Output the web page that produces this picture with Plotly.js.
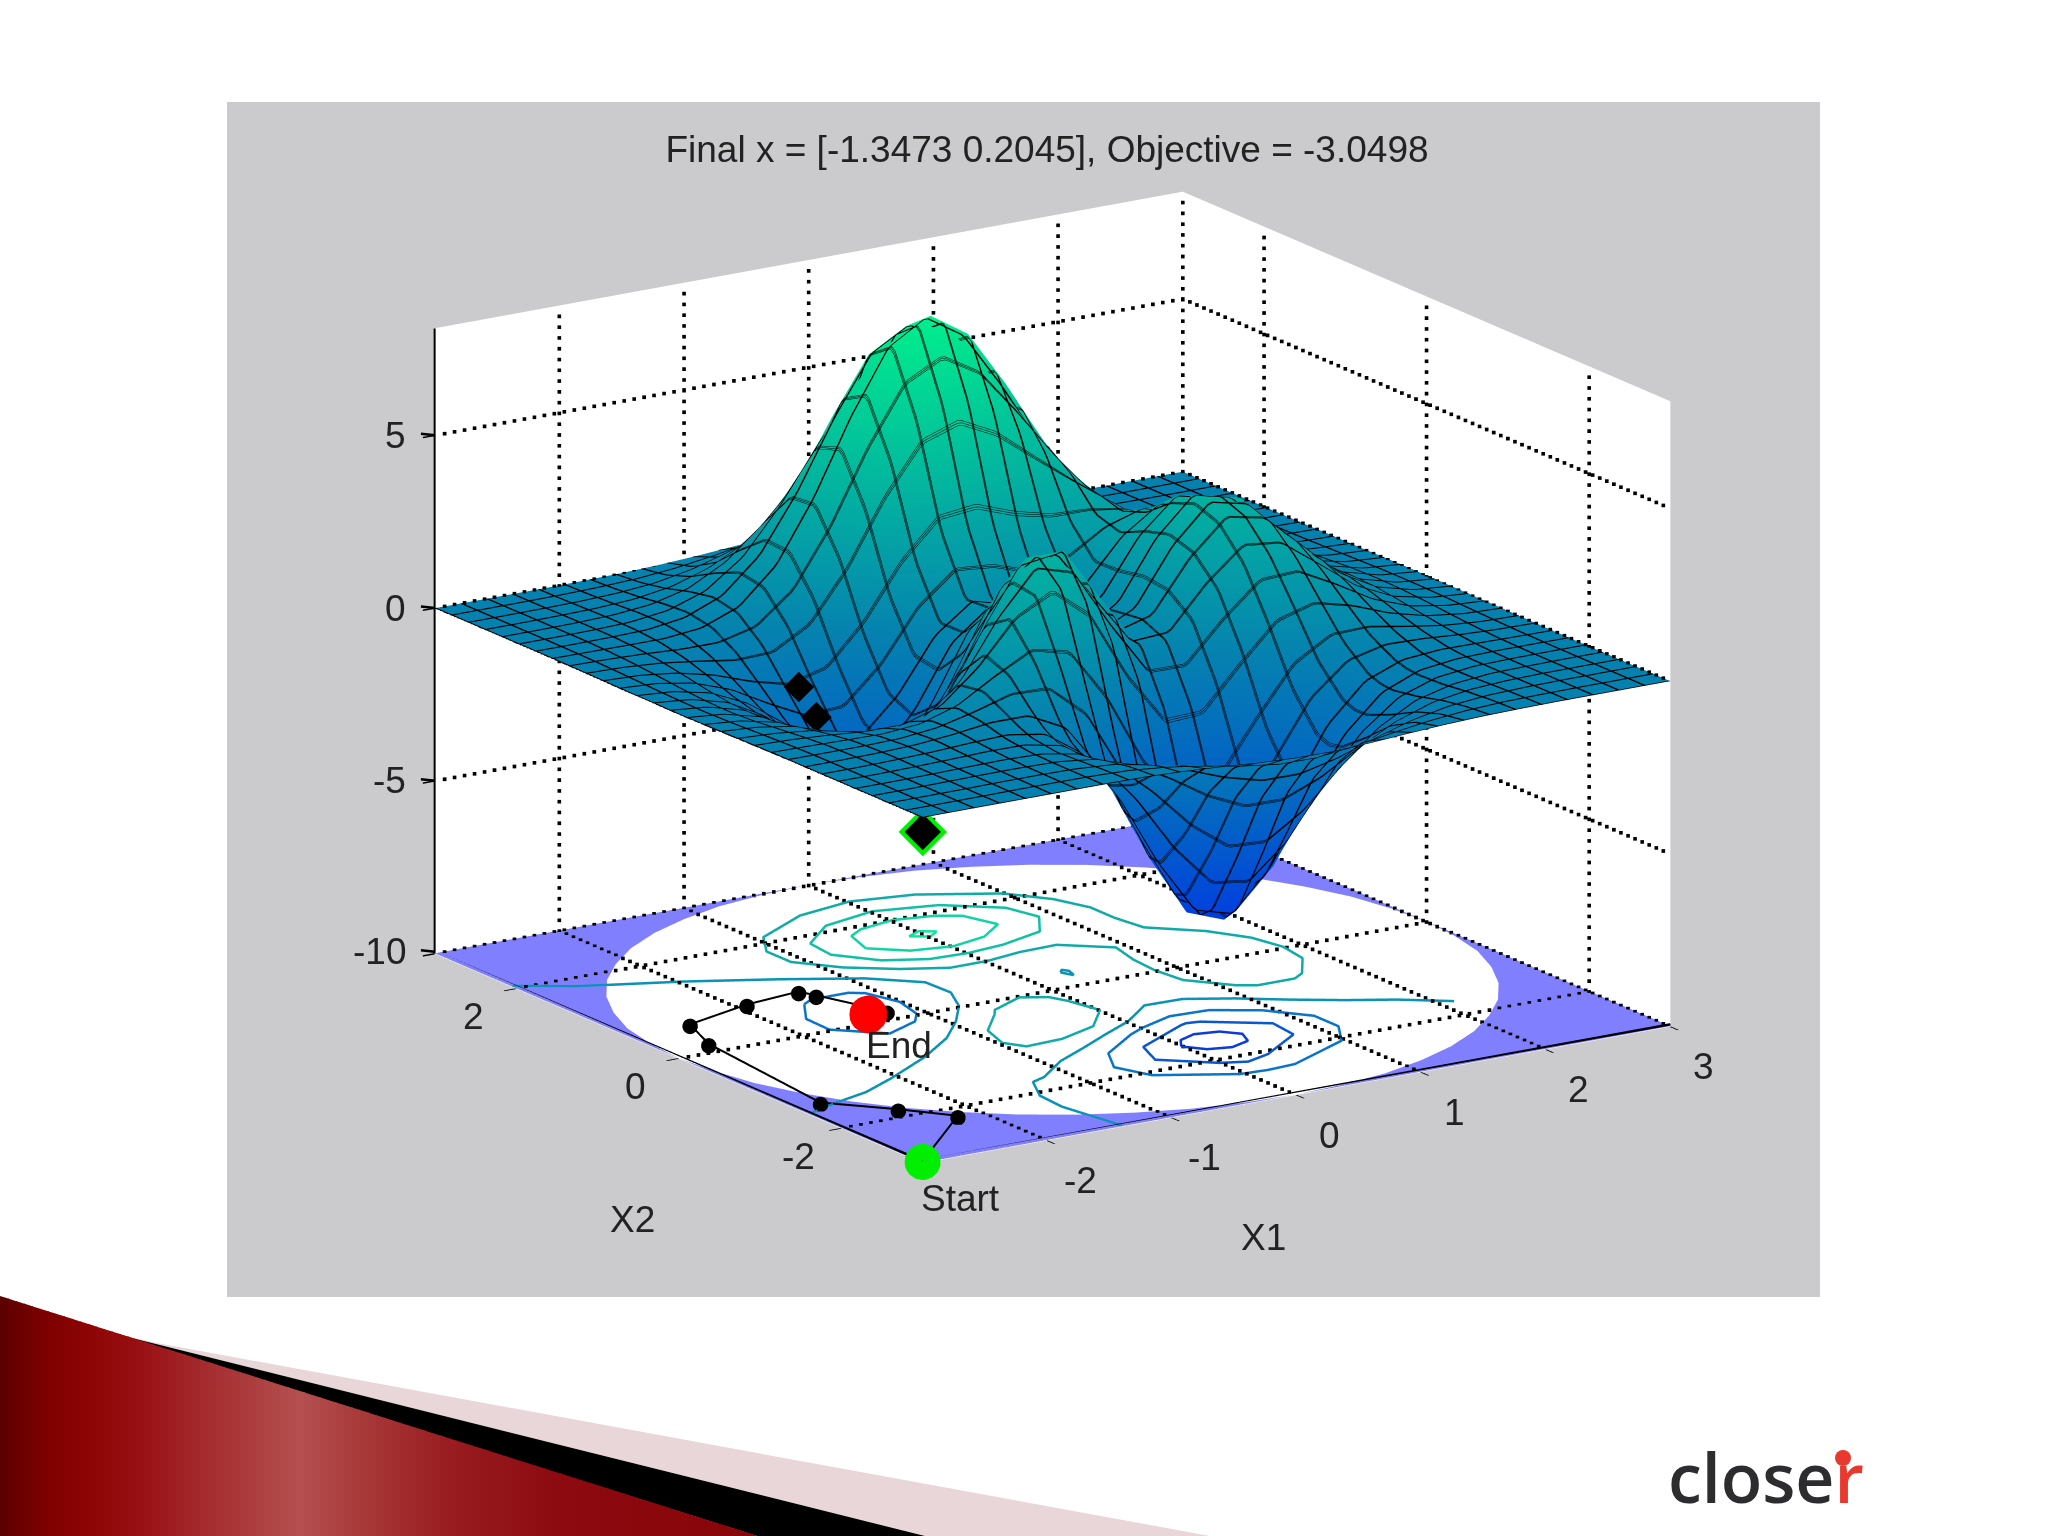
<!DOCTYPE html>
<html><head><meta charset="utf-8">
<script src="https://cdn.plot.ly/plotly-3.0.1.min.js"></script>
<style>html,body{margin:0;padding:0;background:#fff}#p{width:2048px;height:1536px}</style>
</head><body><div id="p"></div>
<script>
// ---------- data ----------
const xs=[-3,-2.7,-2.4,-2.1,-1.8,-1.5,-1.2,-.9,-.6,-.3,0,.3,.6,.9,1.2,1.5,1.8,2.1,2.4,2.7,3];
const ys=[-3,-2.7,-2.4,-2.1,-1.8,-1.65,-1.5,-1.2,-.9,-.6,-.3,0,.3,.6,.9,1.2,1.5,1.8,2.1,2.4,2.7,3];
const zRows=[
[0,0,0,0,0,0,-.01,-.05,-.11,-.19,-.24,-.25,-.2,-.13,-.07,-.03,-.01,0,0,0,0],
[0,0,0,.01,.01,0,-.04,-.17,-.38,-.63,-.81,-.82,-.66,-.43,-.23,-.1,-.03,-.01,0,0,0],
[0,0,.01,.02,.02,0,-.12,-.45,-1,-1.64,-2.09,-2.1,-1.7,-1.11,-.58,-.24,-.08,-.02,0,0,0],
[0,0,.01,.03,.05,.02,-.2,-.82,-1.89,-3.17,-4.09,-4.16,-3.37,-2.18,-1.13,-.46,-.15,-.03,-.01,0,0],
[0,0,.02,.05,.1,.12,-.09,-.87,-2.38,-4.32,-5.83,-6.08,-4.97,-3.19,-1.6,-.61,-.17,-.03,0,0,0],
[0,0,.02,.06,.14,.22,.1,-.6,-2.16,-4.3,-6.08,-6.49,-5.35,-3.41,-1.65,-.58,-.13,0,.01,.01,0],
[0,0,.01,.05,.16,.33,.38,-.1,-1.51,-3.7,-5.68,-6.31,-5.26,-3.29,-1.5,-.44,-.03,.05,.03,.01,0],
[0,-.01,-.02,-.01,.11,.45,1,1.35,.81,-.91,-3.04,-4.18,-3.64,-2.03,-.54,.22,.35,.23,.1,.03,.01],
[-.01,-.04,-.11,-.21,-.22,.12,1.07,2.37,3.05,2.23,.29,-1.23,-1.22,-.07,.97,1.24,.93,.49,.2,.06,.02],
[-.02,-.08,-.23,-.53,-.86,-.82,.12,1.93,3.52,3.52,1.93,.39,.36,1.47,2.35,2.27,1.54,.78,.31,.1,.02],
[-.03,-.12,-.36,-.86,-1.56,-1.99,-1.41,.41,2.4,2.91,1.7,.47,.78,2.22,3.23,3.01,2.01,1.01,.4,.12,.03],
[-.04,-.14,-.43,-1.05,-1.98,-2.77,-2.58,-1,1.02,1.8,.98,.13,.77,2.44,3.53,3.27,2.17,1.1,.43,.13,.03],
[-.03,-.13,-.41,-1.01,-1.95,-2.83,-2.87,-1.64,.13,.97,.46,-.07,.67,2.24,3.23,2.98,1.98,1,.39,.12,.03],
[-.03,-.1,-.32,-.79,-1.53,-2.23,-2.29,-1.32,.13,.92,.69,.35,.85,1.94,2.59,2.32,1.52,.76,.3,.09,.02],
[-.02,-.06,-.2,-.48,-.9,-1.23,-1,.07,1.55,2.57,2.65,2.28,2.13,2.25,2.19,1.72,1.06,.51,.2,.06,.01],
[-.01,-.03,-.09,-.2,-.31,-.19,.51,2,3.93,5.45,5.89,5.31,4.27,3.2,2.23,1.39,.74,.33,.12,.03,.01],
[0,-.01,-.02,-.03,.07,.48,1.5,3.28,5.49,7.33,8,7.28,5.65,3.82,2.27,1.19,.54,.21,.07,.02,0],
[0,0,.01,.04,.2,.64,1.6,3.19,5.13,6.78,7.4,6.76,5.19,3.39,1.89,.91,.38,.13,.04,.01,0],
[0,0,.01,.05,.17,.48,1.13,2.18,3.47,4.56,4.98,4.55,3.49,2.25,1.22,.57,.22,.07,.02,.01,0],
[0,0,.01,.03,.09,.25,.58,1.11,1.75,2.29,2.51,2.29,1.75,1.12,.61,.28,.11,.03,.01,0,0],
[0,0,0,.01,.04,.1,.23,.43,.68,.89,.98,.89,.68,.44,.23,.11,.04,.01,0,0,0],
[0,0,0,0,.01,.03,.07,.13,.21,.27,.3,.27,.21,.13,.07,.03,.01,0,0,0,0]];

const xTicks=[-2,-1,0,1,2,3], yTicks=[-2,0,2], zTicks=[-10,-5,0,5];
const titleText='Final x = [-1.3473 0.2045], Objective = -3.0498';

// iso-lines on the floor: [x, y] pairs, with their colour
const contours=[
 {c:'#10e3a0',p:[[-.12,1.58],[0,1.65],[.1,1.58],[0,1.5]],open:false},
 {c:'#10d4a4',p:[[-.52,1.5],[-.44,1.8],[-.3,1.9],[0,1.97],[.3,1.9],[.45,1.8],[.54,1.5],[.3,1.3],[0,1.22],[-.3,1.29]]},
 {c:'#10bfa4',p:[[-.59,1.2],[-.8,1.5],[-.77,1.8],[-.45,2.1],[0,2.22],[.46,2.1],[.8,1.8],[.87,1.5],[.68,1.2],[.3,1.07],[0,1.03],[-.3,1.05]]},
 {c:'#10aaa8',p:[[1.08,-.6],[1.2,-.68],[1.5,-.68],[1.61,-.6],[1.81,-.3],[1.85,0],[1.79,.3],[1.62,.6],[1.32,.9],[1.28,1.2],[1.28,1.5],[1.18,1.8],[.97,2.1],[.46,2.4],[0,2.5],[-.46,2.4],[-.95,2.1],[-1.12,1.8],[-1.12,1.5],[-.9,1.2],[-.6,.96],[-.3,.8],[0,.8],[.3,.86],[.6,.87],[.9,.6],[.84,.3],[.82,0],[.85,-.3]]},
 {c:'#10aaa8',p:[[-.99,-.9],[-.91,-.6],[-.66,-.3],[-.6,-.21],[-.3,-.05],[-.13,-.15],[-.07,-.3],[-.01,-.6],[-.26,-.9],[-.6,-1.04],[-.9,-1.06]]},
 {c:'#0a93b4',p:[[-3,2.04],[-2.65,1.8],[-1.98,1.5],[-1.42,1.2],[-.92,.9],[-.63,.6],[-.62,.3],[-.75,0],[-.97,-.3],[-1.24,-.6],[-1.61,-.9],[-2.07,-1.2],[-2.4,-1.39],[-2.7,-1.49],[-3,-1.62]],open:true},
 {c:'#0a93b4',p:[[-1.4,-3],[-1.49,-2.4],[-1.47,-2.1],[-1.33,-1.8],[-1.2,-1.74],[-.9,-1.48],[-.6,-1.3],[-.3,-1.11],[0,-.93],[.3,-.67],[.6,-.68],[.9,-.86],[1.2,-1.09],[1.5,-1.3],[1.8,-1.48],[2.1,-1.72]],open:true},
 {c:'#0a93b4',p:[[.26,.3],[.3,.35],[.33,.3],[.3,.2]]},
 {c:'#0a75c8',p:[[-.15,-1.2],[-.53,-1.5],[-.68,-1.8],[-.57,-2.1],[-.06,-2.4],[.15,-2.42],[.38,-2.4],[.95,-2.1],[1.12,-1.8],[1.12,-1.5],[.9,-1.2],[.6,-1],[.3,-.98],[0,-1.11]]},
 {c:'#0a75c8',p:[[-1.6,.6],[-1.5,.67],[-1.2,.67],[-1.11,.6],[-1.03,.3],[-1.09,0],[-1.2,-.15],[-1.5,-.3],[-1.79,0],[-1.78,.3]]},
 {c:'#0a58d0',p:[[.25,-1.2],[-.25,-1.5],[-.35,-1.8],[-.03,-2.1],[.15,-2.18],[.36,-2.1],[.76,-1.8],[.79,-1.5],[.4,-1.2],[.3,-1.18]]},
 {c:'#0a3cdc',p:[[-.03,-1.63],[.05,-1.5],[.2,-1.43],[.38,-1.47],[.48,-1.6],[.42,-1.76],[.25,-1.83],[.08,-1.78]]}
];

// search path
const pathX=[-3,-2.2,-2.45,-2.8,-2.66,-2.51,-1.93,-1.47,-1.42,-1.23,-1.3473];
const pathY=[-3,-2.21,-1.86,-1.44,.15,.61,.8,.87,.73,.15,.2045];
const pathZ=[-.4,0,0,0,-.13,-.2,-.6,-1.13,-1.89,-2.9,-3.0498];

// quarter of the white disc rim (the corners outside it are tinted)
const rimX=[3,2.97,2.9,2.77,2.6,2.38,2.12,1.83,1.5,1.15,.78,.39,0];
const rimY=[0,.39,.78,1.15,1.5,1.83,2.12,2.38,2.6,2.77,2.9,2.97,3];

// ---------- scene ----------
const ZMIN=-10, ZMAX=8.1, FLOOR=-9.97, MESH_STEP=.2069;
const EYE=[-.524,-.804,.28], EYE_R=1.66;
// slide a marker along the line of sight: same screen spot, nearer or farther in depth
function shift(x,y,z,t){return [x+EYE[0]*t*6,y+EYE[1]*t*6,z+EYE[2]*t*(ZMAX-ZMIN)/.73];}
const traces=[];

// dotted grid
const gx=[],gy=[],gz=[];
function dots(a,b,step){
  const d=[b[0]-a[0],b[1]-a[1],b[2]-a[2]], len=Math.abs(d[0])+Math.abs(d[1])+Math.abs(d[2]), n=Math.round(len/step);
  for(let i=0;i<=n;i++){const q=shift(a[0]+d[0]*i/n,a[1]+d[1]*i/n,a[2]+d[2]*i/n,.006);gx.push(q[0]);gy.push(q[1]);gz.push(q[2]);}
}
xTicks.forEach(t=>{ if(t<3) dots([t,-3,ZMIN],[t,3,ZMIN],.087); dots([t,3,ZMIN],[t,3,ZMAX],.31); });
yTicks.forEach(t=>{ dots([-3,t,ZMIN],[3,t,ZMIN],.08); dots([3,t,ZMIN],[3,t,ZMAX],.31); });
zTicks.forEach(t=>{ dots([-3,3,t],[3,3,t],.08); dots([3,3,t],[3,-3,t],.087); });
traces.push({type:'scatter3d',mode:'markers',x:gx,y:gy,z:gz,hoverinfo:'skip',marker:{color:'#000',size:1.9,symbol:'square'}});

// tinted corners
[[1,1],[1,-1],[-1,1],[-1,-1]].forEach(s=>{
  const mx=[3*s[0]].concat(rimX.map(v=>v*s[0]));
  const my=[3*s[1]].concat(rimY.map(v=>v*s[1]));
  const mz=mx.map(()=>-9.985);
  const i=[],j=[],k=[];
  for(let n=1;n<rimX.length;n++){i.push(0);j.push(n);k.push(n+1);}
  traces.push({type:'mesh3d',x:mx,y:my,z:mz,i:i,j:j,k:k,color:'#8080ff',flatshading:true,hoverinfo:'skip',
    lighting:{ambient:1,diffuse:0,specular:0,roughness:1,fresnel:0}});
});

// surface, drawn three times so that its 1px wire lines read as thicker lines
[0,.006,.012].forEach(off=>{
  traces.push({type:'surface',x:xs,y:ys,z:zRows,showscale:false,cmin:-6.55,cmax:8.1,hoverinfo:'skip',
    colorscale:[[0,'#003ce1'],[.45,'#0582af'],[1,'#00f08c']],
    lighting:{ambient:1,diffuse:0,specular:0,roughness:1,fresnel:0},
    contours:{
      x:{show:true,start:-3+off,end:3,size:MESH_STEP,color:'#000',width:4,highlight:false},
      y:{show:true,start:-3+off,end:3,size:MESH_STEP,color:'#000',width:4,highlight:false},
      z:{highlight:false}}});
});

// floor iso-lines
contours.forEach(c=>{
  const p=c.open?c.p:c.p.concat([c.p[0]]);
  traces.push({type:'scatter3d',mode:'lines',x:p.map(q=>q[0]),y:p.map(q=>q[1]),z:p.map(()=>FLOOR+.01),
    hoverinfo:'skip',line:{color:c.c,width:5}});
});

// solid axis edges
traces.push({type:'scatter3d',mode:'lines',x:[-3,-3,null,-3,3],y:[3,-3,null,-3,-3],z:[FLOOR+.04,FLOOR+.04,null,FLOOR+.04,FLOOR+.04],
  hoverinfo:'skip',connectgaps:false,line:{color:'#000',width:5}});
traces.push({type:'scatter3d',mode:'lines',x:[-3,-3],y:[3,3],z:[ZMIN,ZMAX],hoverinfo:'skip',line:{color:'#000',width:4}});

// path on the floor
traces.push({type:'scatter3d',mode:'lines',x:pathX,y:pathY,z:pathX.map(()=>FLOOR+.02),hoverinfo:'skip',line:{color:'#000',width:4}});
{const q=pathX.map((v,i)=>shift(v,pathY[i],ZMIN,.03));
 traces.push({type:'scatter3d',mode:'markers',x:q.slice(1).map(a=>a[0]),y:q.slice(1).map(a=>a[1]),z:q.slice(1).map(a=>a[2]),hoverinfo:'skip',marker:{color:'#000',size:9}});}
// the stretch of the path that shows on the surface
{const a=shift(pathX[7],pathY[7],pathZ[7],.03),b=shift(pathX[8],pathY[8],pathZ[8],.03);
 traces.push({type:'scatter3d',mode:'markers',x:[a[0],b[0]],y:[a[1],b[1]],z:[a[2],b[2]],hoverinfo:'skip',marker:{color:'#000',size:10,symbol:'diamond'}});}
// start / end markers
traces.push({type:'scatter3d',mode:'markers',x:[pathX[0]],y:[pathY[0]],z:[FLOOR+.03],hoverinfo:'skip',marker:{color:'#00ee00',size:21}});
{const a=shift(pathX[0],pathY[0],pathZ[0],-.09),b=shift(pathX[0],pathY[0],pathZ[0],-.085);
 traces.push({type:'scatter3d',mode:'markers',x:[a[0]],y:[a[1]],z:[a[2]],hoverinfo:'skip',marker:{color:'#00ee00',size:16,symbol:'diamond'}});
 traces.push({type:'scatter3d',mode:'markers',x:[b[0]],y:[b[1]],z:[b[2]],hoverinfo:'skip',marker:{color:'#000',size:12,symbol:'diamond'}});}
{const a=shift(pathX[10],pathY[10],ZMIN,.08);
 traces.push({type:'scatter3d',mode:'markers',x:[a[0]],y:[a[1]],z:[a[2]],hoverinfo:'skip',marker:{color:'#ff0000',size:22}});}
traces.push({type:'scatter3d',mode:'markers',x:[pathX[10]],y:[pathY[10]],z:[pathZ[10]],hoverinfo:'skip',marker:{color:'#ff0000',size:22}});

// text anchored to the 3D axes
const FONT='Liberation Sans, Arial, sans-serif', TXT='#222', LZ=-9.95;
function lab(x,y,z,text,dx,dy,size){return {x:x,y:y,z:z,text:text,showarrow:false,xshift:dx,yshift:dy,xanchor:'center',yanchor:'middle',font:{family:FONT,size:size||37,color:TXT}};}
const ann=[];
zTicks.forEach(t=>{
  const zz=t===-10?LZ:t;
  const a=lab(-3,3,zz,String(t),-27,0);a.xanchor='right';ann.push(a);
  // short tick to the left of the z edge
  ann.push({x:-3,y:3,z:zz,text:' ',showarrow:true,arrowhead:0,arrowwidth:2.5,arrowcolor:'#000',ax:-17,ay:-2,standoff:0,startstandoff:0});
});
xTicks.forEach(t=>ann.push(lab(t,-3,LZ,String(t),33,-42)));
yTicks.forEach(t=>ann.push(lab(-3,t,LZ,String(t),-43,-30)));
ann.push(lab(0,-3,LZ,'X1',-33,-144));
ann.push(lab(-3,0,LZ,'X2',-46,-163));
ann.push(lab(-3,-3,LZ,'Start',38,-37));
ann.push(lab(pathX[10],pathY[10],LZ,'End',31,-34));

// ---------- slide decoration ----------
const shapes=[{type:'rect',xref:'paper',yref:'paper',x0:227/2048,x1:1820/2048,y0:1-1297/1536,y1:1-102/1536,fillcolor:'#cbcacd',line:{width:0},layer:'below'}];
function poly(pts,col){return {type:'path',xref:'paper',yref:'paper',path:'M'+pts.map(q=>(q[0])+','+(q[1])).join(' L')+' Z',fillcolor:col,line:{width:0},layer:'below'};}
function pp(q){return [q[0]/2048,1-q[1]/1536];}
shapes.push(poly([[157,1343],[1210,1536],[925,1536],[108,1332]].map(pp),'#e8d6d8'));
shapes.push(poly([[108,1332],[925,1536],[757,1536]].map(pp),'#000000'));
const stops=[[0,[90,0,0]],[40,[122,0,0]],[90,[142,5,5]],[140,[152,16,20]],[210,[165,45,48]],[300,[180,80,80]],[360,[168,58,58]],[450,[152,28,32]],[560,[140,10,16]],[760,[136,5,8]]];
function colAt(x){for(let i=1;i<stops.length;i++){if(x<=stops[i][0]){const a=stops[i-1],b=stops[i],t=(x-a[0])/(b[0]-a[0]);
  return 'rgb('+[0,1,2].map(n=>Math.round(a[1][n]+t*(b[1][n]-a[1][n]))).join(',')+')';}}return 'rgb(136,5,8)';}
const edge=x=>1296+.3167*x;
for(let x=0;x<757;x+=8){const e=Math.min(x+9,757);
  shapes.push(poly([[x,edge(x)],[e,edge(e)],[e,1536],[x,1536]].map(pp),colAt(x+4)));}
shapes.push({type:'circle',xref:'paper',yref:'paper',x0:1835/2048,x1:1851/2048,y0:1-1466/1536,y1:1-1450/1536,fillcolor:'#e8392e',line:{width:0},layer:'below'});

const ax=(ticks,range)=>({range:range,tickvals:ticks,showticklabels:false,showgrid:false,zeroline:false,showspikes:false,showbackground:true,backgroundcolor:'#fff',ticks:'outside',ticklen:14,tickcolor:'#000',tickwidth:3,title:{text:''},showline:false});
const layout={
  width:2048,height:1536,margin:{l:0,r:0,t:0,b:0},paper_bgcolor:'#ffffff',showlegend:false,hovermode:false,
  title:{text:titleText,x:1047/2048,xanchor:'center',y:1-149/1536,yanchor:'middle',font:{family:FONT,size:37,color:TXT}},
  shapes:shapes,
  annotations:[{xref:'paper',yref:'paper',x:1766/2048,y:1-1476/1536,xanchor:'center',yanchor:'middle',showarrow:false,
    text:'close<span style="color:#e8392e">r</span>',font:{family:'Open Sans, Noto Sans, sans-serif',size:68,weight:600,color:'#2d2d30'}}],
  scene:{
    domain:{x:[.05,.978],y:[.12,.998]},
    aspectmode:'manual',aspectratio:{x:1.324,y:1.324,z:.966},
    camera:{projection:{type:'orthographic'},up:{x:0,y:0,z:1},center:{x:0,y:0,z:0},eye:{x:EYE[0]*EYE_R,y:EYE[1]*EYE_R,z:EYE[2]*EYE_R}},
    annotations:ann,
    xaxis:ax(xTicks,[-3,3]),yaxis:ax(yTicks,[-3,3]),zaxis:ax(zTicks,[ZMIN,ZMAX])
  }
};
Plotly.newPlot('p',traces,layout,{displayModeBar:false});
</script></body></html>
